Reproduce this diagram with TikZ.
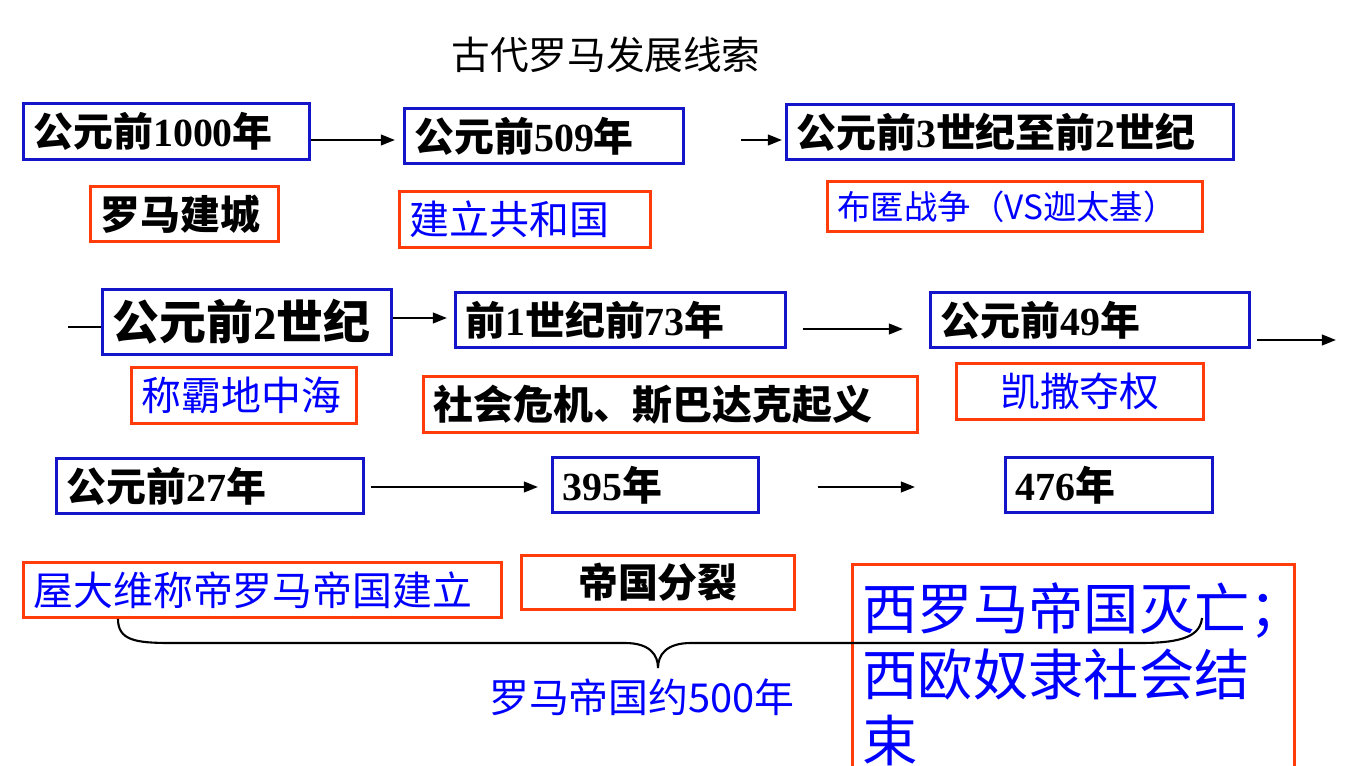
\documentclass[tikz,border=0pt]{standalone}
\usepackage{fontspec}
\setmainfont{Noto Sans CJK SC}
\newfontfamily\numfont{Liberation Serif}
\usetikzlibrary{arrows.meta}

\definecolor{eraline}{RGB}{20,20,200}
\definecolor{evline}{RGB}{255,60,10}
\definecolor{evtext}{RGB}{0,0,255}

\tikzset{
  era/.style={draw=eraline, line width=1.7pt, anchor=north west, inner xsep=0.2cm, inner ysep=0pt, align=left, font=\bfseries\fontsize{22.7}{27}\selectfont},
  event/.style={draw=evline, line width=1.7pt, anchor=north west, inner xsep=0.2cm, inner ysep=0pt, align=left, text=evtext, font=\fontsize{22.7}{27}\selectfont},
  eventb/.style={event, text=black, font=\bfseries\fontsize{22.7}{27}\selectfont},
  arr/.style={line width=1.2pt, -{Triangle[length=8pt,width=6pt]}},
}

\begin{document}
\begin{tikzpicture}[x=0.02cm, y=-0.02cm]
\useasboundingbox (0,0) rectangle (1361,766);
\clip (0,0) rectangle (1361,766);

\node[font=\fontsize{22}{26}\selectfont] (title) at (606,55) {古代罗马发展线索};

% Define nodes
\node[era, text width=5.32cm, minimum height=1.12cm] (c1000) at (22,102) {公元前{\numfont 1000}年};
\node[era, text width=5.18cm, minimum height=1.10cm] (c509) at (403,107) {公元前{\numfont 509}年};
\node[era, text width=8.54cm, minimum height=1.10cm] (c3) at (785,103) {公元前{\numfont 3}世纪至前{\numfont 2}世纪};
\node[eventb, text width=3.36cm, minimum height=1.10cm] (city) at (89,185) {罗马建城};
\node[event, text width=4.62cm, minimum height=1.12cm] (rep) at (398,190) {建立共和国};
\node[event, text width=7.10cm, minimum height=1.00cm, font=\fontsize{19}{23}\selectfont] (punic) at (826,180) {布匿战争（VS迦太基）};

\node[era, text width=5.38cm, minimum height=1.30cm, font=\bfseries\fontsize{26.7}{31}\selectfont] (c2) at (101,288) {公元前{\numfont 2}世纪};
\node[era, text width=6.20cm, minimum height=1.10cm] (c73) at (454,291) {前{\numfont 1}世纪前{\numfont 73}年};
\node[era, text width=5.98cm, minimum height=1.10cm] (c49) at (929,291) {公元前{\numfont 49}年};
\node[event, text width=4.10cm, minimum height=1.12cm] (medit) at (130,366) {称霸地中海};
\node[eventb, text width=9.48cm, minimum height=1.12cm] (crisis) at (422,375) {社会危机、斯巴达克起义};
\node[event, text width=4.54cm, minimum height=1.12cm, align=center] (caesar) at (955,362) {凯撒夺权};

\node[era, text width=5.74cm, minimum height=1.10cm] (c27) at (55,457) {公元前{\numfont 27}年};
\node[era, text width=3.72cm, minimum height=1.10cm] (c395) at (551,456) {{\numfont 395}年};
\node[era, text width=3.74cm, minimum height=1.10cm] (c476) at (1004,456) {{\numfont 476}年};

\node[event, text width=9.16cm, minimum height=1.10cm] (octav) at (22,561) {屋大维称帝罗马帝国建立};
\node[eventb, text width=5.06cm, minimum height=1.08cm, align=center] (split) at (520,554) {帝国分裂};
\node[event, text width=8.44cm, minimum height=4.40cm, font=\fontsize{31.5}{37.5}\selectfont] (fall) at (851,563) {西罗马帝国灭亡；\\西欧奴隶社会结\\束};

\node[text=evtext, font=\fontsize{22.7}{27}\selectfont] (span) at (642,697) {罗马帝国约500年};

% Connect the nodes
\coordinate (wrap) at (68,327);
\coordinate (next) at (1336,340);
\draw[arr, shorten >=0.16cm] (c1000.east |- 0,140) -- (c509.west |- 0,140);
\draw[arr, shorten <=1.12cm, shorten >=0.06cm] (c509.east |- 0,140) -- (c3.west |- 0,140);
\draw[line width=1.2pt] (wrap) -- (c2.west |- wrap);
\draw[arr, shorten >=0.14cm] (c2.east |- 0,318) -- (c73.west |- 0,318);
\draw[arr, shorten <=0.32cm, shorten >=0.52cm] (c73.east |- 0,329) -- (c49.west |- 0,329);
\draw[arr, shorten <=0.12cm] (c49.east |- next) -- (next);
\draw[arr, shorten <=0.12cm, shorten >=0.26cm] (c27.east |- 0,487) -- (c395.west |- 0,487);
\draw[arr, shorten <=1.16cm, shorten >=1.78cm] (c395.east |- 0,487) -- (c476.west |- 0,487);

% Brace
\draw[line width=1.2pt] (octav.south -| 118,0) .. controls (118,640) and (135,643) .. (170,643) -- (625,643)
  .. controls (650,643) and (658,655) .. (658,668) .. controls (658,655) and (666,643) .. (691,643) -- (1140,643)
  .. controls (1185,643) and (1200,635) .. (1202,618);

\end{tikzpicture}
\end{document}
